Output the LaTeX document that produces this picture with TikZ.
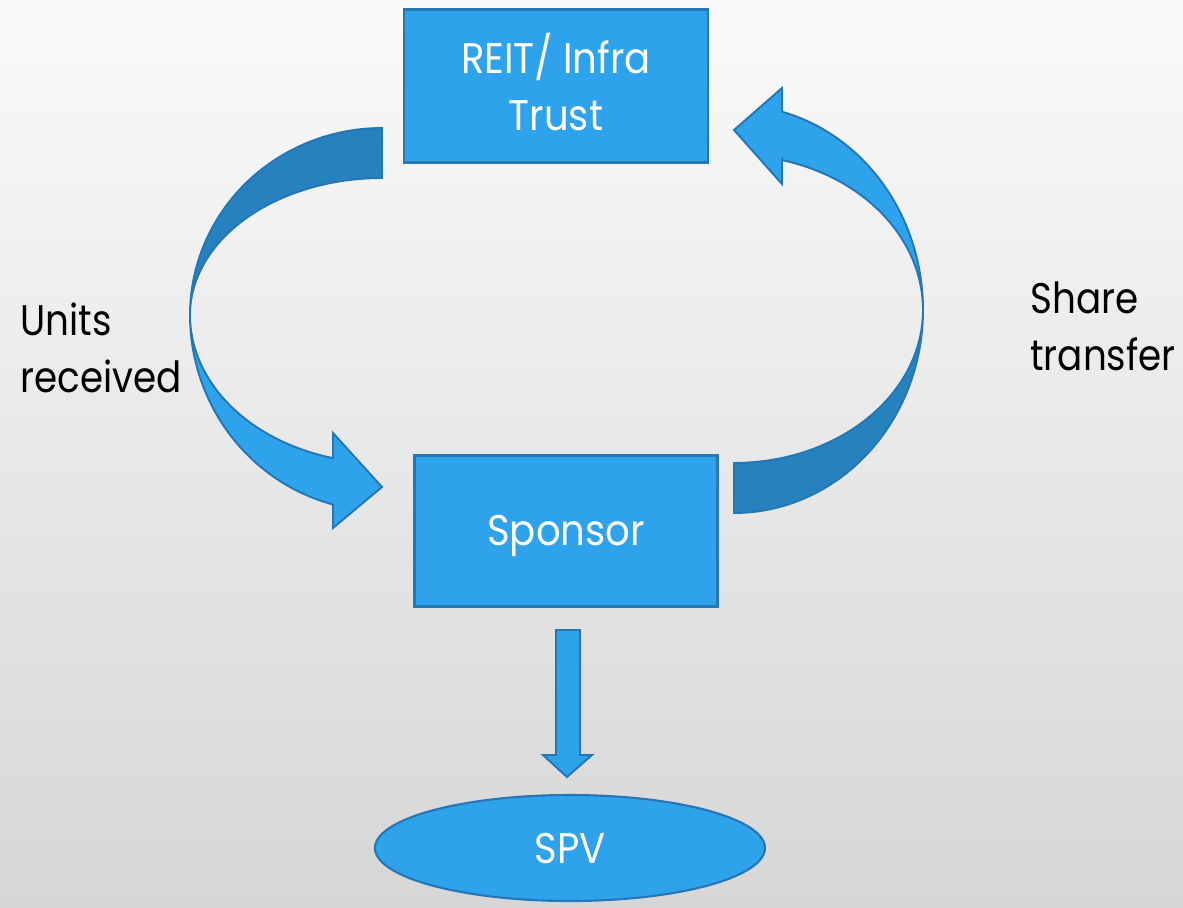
\documentclass[tikz,border=0pt]{standalone}
\usepackage{fontspec}
\setmainfont{Poppins}[FakeStretch=0.9]
\usetikzlibrary{shapes.geometric}
\definecolor{boxfill}{RGB}{47,162,236}
\definecolor{backfill}{RGB}{38,129,191}
\definecolor{boxline}{RGB}{36,119,180}
\definecolor{bgtop}{RGB}{250,250,250}
\definecolor{bgbottom}{RGB}{214,214,214}
\newlength\pxl
\setlength\pxl{0.02cm}
\begin{document}
\begin{tikzpicture}[x=0.02cm,y=-0.02cm,
  bodytext/.style={font=\fontsize{24.4}{32.2}\selectfont},
  bluebox/.style={draw=boxline, line width=1.2pt, fill=boxfill, text=white,
    align=center, inner sep=0pt, bodytext},
  frontpart/.style={draw=boxline, line width=1.1pt, fill=boxfill, line join=miter},
  backpart/.style={draw=boxline, line width=1.1pt, fill=backfill, line join=miter},
  label/.style={text=black, align=left, inner sep=0pt, bodytext}]
  % background
  \shade[top color=bgtop, bottom color=bgbottom] (0,0) rectangle (1183,907);
  \useasboundingbox (0,0) rectangle (1183,907);

  % boxes
  \node[bluebox, minimum width=304\pxl, minimum height=153\pxl,
        text depth=4.6pt] (reit) at (556,86)
    {REIT/ Infra\\Trust};
  \node[bluebox, minimum width=303\pxl, minimum height=151\pxl,
        text height=20pt, text depth=4pt] (sponsor) at (566,531)
    {Sponsor};
  \node[bluebox, ellipse, minimum width=390\pxl, minimum height=106\pxl] (spv) at (570,848)
    {SPV};

  % left curved arrow: back band, then front band with head
  \filldraw[backpart]
    plot[domain=270:180, samples=50] ({382+192*cos(\x)},{315+187*sin(\x)})
    -- plot[domain=180:270, samples=50] ({382+192*cos(\x)},{315+137*sin(\x)})
    -- cycle;
  \filldraw[frontpart]
    plot[domain=180:104.8, samples=50] ({382+192*cos(\x)},{315+196*sin(\x)})
    -- (333,528) -- (382,487) -- (333,433) -- (333,458)
    -- plot[domain=104.8:180, samples=50] ({382+192*cos(\x)},{315+148*sin(\x)})
    -- cycle;

  % right curved arrow: back band, then front band with head
  \filldraw[backpart]
    plot[domain=90:0, samples=50] ({734+189*cos(\x)},{310+203*sin(\x)})
    -- plot[domain=0:90, samples=50] ({734+189*cos(\x)},{310+153*sin(\x)})
    -- cycle;
  \filldraw[frontpart]
    plot[domain=0:-75.3, samples=50] ({734+189*cos(\x)},{310+205*sin(\x)})
    -- (782,88) -- (734,130) -- (782,184) -- (782,160)
    -- plot[domain=-75.3:0, samples=50] ({734+189*cos(\x)},{310+155*sin(\x)})
    -- cycle;

  % block arrow from the sponsor down to the SPV
  \filldraw[frontpart]
    (556,630) -- (580,630) -- (580,755) -- (592,755) -- (567,777)
    -- (543,755) -- (556,755) -- cycle;

  % side labels (anchored on the baseline of their last line)
  \node[label, anchor=base west, font=\fontsize{24.4}{32.2}\selectfont\addfontfeature{FakeStretch=0.87}]
    (units) at (20,392) {Units\\received};
  \node[label, anchor=base west, font=\fontsize{24.4}{32.2}\selectfont\addfontfeature{FakeStretch=0.87}]
    (share) at (1030,370) {Share\\transfer};
\end{tikzpicture}
\end{document}
